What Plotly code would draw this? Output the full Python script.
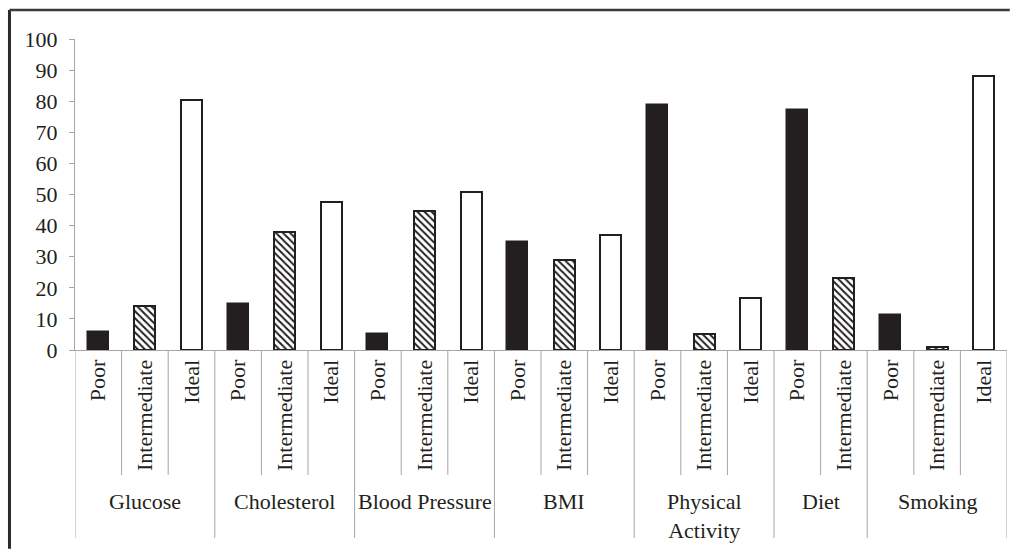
import plotly.graph_objects as go

# ---- data ----
groups = ["Glucose", "Cholesterol", "Blood Pressure", "BMI", "Physical<br>Activity", "Diet", "Smoking"]
levels = ["Poor", "Intermediate", "Ideal"]
poor = [5.7, 14.9, 5.0, 34.6, 78.7, 77.2, 11.2]
intermediate = [14.1, 38.0, 44.8, 28.9, 5.0, 23.2, 1.0]
ideal = [80.5, 47.5, 50.7, 37.0, 16.8, None, 88.1]
y_ticks = list(range(0, 101, 10))

series = {"Poor": poor, "Intermediate": intermediate, "Ideal": ideal}

# build slot positions (Diet has no Ideal bar and no Ideal slot)
slot_x, slot_text = [], []
group_slots = []
bar_pos = {lv: ([], []) for lv in levels}
i = 0
for g_idx, g in enumerate(groups):
    start = i
    for lv in levels:
        v = series[lv][g_idx]
        if v is None:
            continue
        slot_x.append(i)
        slot_text.append(lv)
        bar_pos[lv][0].append(i)
        bar_pos[lv][1].append(v)
        i += 1
    group_slots.append((start, i - 1))
n_slots = i

INK = "#231f20"
GRID = "#a6a6a6"
FONT = "Liberation Serif"
FS = 22

fig = go.Figure()
styles = {
    "Poor": dict(color=INK, line=dict(color=INK, width=1.5)),
    "Intermediate": dict(color="white",
                         pattern=dict(shape="\\", size=5, solidity=0.4,
                                      fgcolor=INK, bgcolor="white", fillmode="replace"),
                         line=dict(color=INK, width=2)),
    "Ideal": dict(color="white", line=dict(color=INK, width=2)),
}
for lv in levels:
    xs, ys = bar_pos[lv]
    fig.add_trace(go.Bar(x=xs, y=ys, name=lv, width=0.45, marker=styles[lv],
                         showlegend=False, hoverinfo="skip"))

shapes = []
# dividers
group_bounds = set()
for s, e in group_slots:
    group_bounds.add(s - 0.5)
    group_bounds.add(e + 0.5)
for k in range(n_slots + 1):
    b = k - 0.5
    y1 = -0.6045 if b in group_bounds else -0.402
    shapes.append(dict(type="line", xref="x", yref="paper", x0=b, x1=b, y0=0, y1=y1,
                       line=dict(color=GRID, width=1)))
# outer frame (only left and top edges are visible in the cropped figure)
shapes.append(dict(type="line", xref="paper", yref="paper",
                   x0=-0.0703, x1=-0.0703, y0=-0.639, y1=1.0932,
                   line=dict(color="#2a2a2a", width=3)))
shapes.append(dict(type="line", xref="paper", yref="paper",
                   x0=-0.0703, x1=1.003, y0=1.0932, y1=1.0932,
                   line=dict(color="#3a3a3a", width=2.5)))

annotations = []
for (s, e), g in zip(group_slots, groups):
    annotations.append(dict(x=(s + e) / 2, y=-0.44, xref="x", yref="paper",
                            text=g, showarrow=False, yanchor="top", xanchor="center",
                            font=dict(family=FONT, size=FS, color=INK)))

fig.update_layout(
    width=1010, height=549,
    margin=dict(l=75, r=3, t=39, b=199),
    plot_bgcolor="white", paper_bgcolor="white",
    bargap=0, barmode="overlay",
    shapes=shapes, annotations=annotations,
    xaxis=dict(range=[-0.5, n_slots - 0.5], tickmode="array", tickvals=slot_x,
               ticktext=slot_text, tickangle=-90, ticks="", showline=True,
               linecolor=GRID, linewidth=1, showgrid=False, zeroline=False,
               tickfont=dict(family=FONT, size=FS, color=INK)),
    yaxis=dict(range=[0, 100], tickmode="array", tickvals=y_ticks, ticks="outside",
               ticklen=5, tickcolor=GRID, showline=True, linecolor=GRID, linewidth=1,
               showgrid=False, zeroline=False, ticklabelstandoff=7,
               tickfont=dict(family=FONT, size=FS, color=INK)),
)

fig.write_html("out.html", config={"displayModeBar": False},
               post_script="document.body.style.margin='0';document.body.style.overflow='hidden';")
